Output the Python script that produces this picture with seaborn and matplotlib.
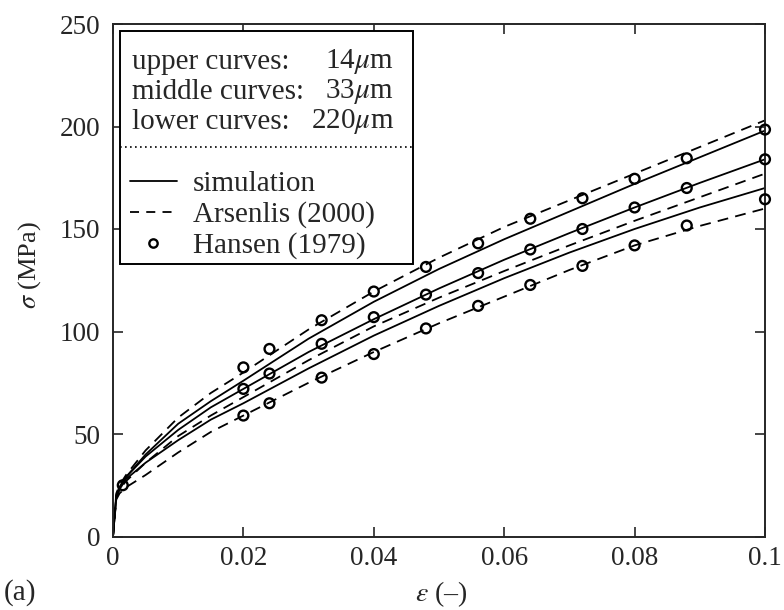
import matplotlib
matplotlib.use("Agg")
import matplotlib.pyplot as plt
import seaborn as sns
from matplotlib.lines import Line2D
from matplotlib.patches import Rectangle

# ---- data ----
strain = [0, 0.0005, 0.001, 0.002, 0.005, 0.01, 0.015, 0.02, 0.03, 0.04,
          0.05, 0.06, 0.07, 0.08, 0.09, 0.1]
sim_14 = [0, 20, 24, 29, 40, 55, 66, 76, 96.5, 114.5, 130.5, 145, 158.5, 172, 185, 198]
ars_14 = [0, 21, 25, 30, 42, 58, 70, 80, 101, 119.5, 136, 151, 164, 177, 190, 203]
sim_33 = [0, 20, 24, 29, 39, 52, 63, 72, 90, 106, 121, 135, 148, 160.5, 172.5, 184]
ars_33 = [0, 19, 23, 27, 36, 49, 59, 68, 86, 102.5, 116.5, 129.5, 142, 154, 165.5, 177]
sim_220 = [0, 19, 23, 28, 36, 47, 57, 65, 82, 98, 112.5, 126, 138.5, 150, 160.5, 170]
ars_220 = [0, 18, 21, 24, 30, 41, 51, 59, 75, 90, 104, 117, 130, 142, 151.5, 160]

hansen_x = [0.02, 0.024, 0.032, 0.04, 0.048, 0.056, 0.064, 0.072, 0.08, 0.088, 0.1]
hansen_14 = [82.5, 91.5, 105.5, 119.5, 131.5, 143, 155, 165, 174.5, 184.5, 198.5]
hansen_33 = [72, 79.5, 94, 107, 118, 128.5, 140, 150, 160.5, 170, 184]
hansen_220 = [59, 65, 77.5, 89, 101.5, 112.5, 122.7, 132, 142, 151.7, 164.5]
hansen_first_x = [0.0015]
hansen_first_y = [25]

xticks = [0, 0.02, 0.04, 0.06, 0.08, 0.1]
xtick_labels = ["0", "0.02", "0.04", "0.06", "0.08", "0.1"]
yticks = [0, 50, 100, 150, 200, 250]

sns.set_style("ticks")
plt.rcParams["font.family"] = ["Liberation Serif", "DejaVu Serif"]
plt.rcParams["mathtext.fontset"] = "stix"

W, H = 784, 610
fig = plt.figure(figsize=(W / 100, H / 100), dpi=100)
AX_L, AX_R, AX_T, AX_B = 113, 765, 24, 536.5
ax = fig.add_axes([AX_L / W, (H - AX_B) / H, (AX_R - AX_L) / W, (AX_B - AX_T) / H])


def axx(px):
    return (px - AX_L) / (AX_R - AX_L)


def axy(py):
    return (AX_B - py) / (AX_B - AX_T)


lw = 1.3
dash = (6, 4)
for ys in (sim_14, sim_33, sim_220):
    sns.lineplot(x=strain, y=ys, color="black", linewidth=lw, ax=ax,
                 estimator=None, sort=False)
for ys in (ars_14, ars_33, ars_220):
    sns.lineplot(x=strain, y=ys, color="black", linewidth=lw, ax=ax,
                 estimator=None, sort=False)
    ax.lines[-1].set_dashes(dash)

mk = dict(marker="o", s=50, facecolor="none", edgecolor="black",
          linewidth=1.7, ax=ax, clip_on=False, zorder=5)
for ys in (hansen_14, hansen_33, hansen_220):
    sns.scatterplot(x=hansen_x, y=ys, **mk)
sns.scatterplot(x=hansen_first_x, y=hansen_first_y, **mk)

ax.set_xlim(0, 0.1)
ax.set_ylim(0, 250)
ax.set_xticks(xticks)
ax.set_xticklabels(xtick_labels)
ax.set_yticks(yticks)
ax.tick_params(direction="in", length=7, width=1.2, top=True, right=True,
               labelsize=19.5)
ax.tick_params(axis="x", pad=7)
ax.tick_params(axis="y", pad=9)
for s in ax.spines.values():
    s.set_linewidth(1.4)
    s.set_visible(True)

fig.text(441 / W, 1 - 594 / H, r"$\varepsilon$ (–)", fontsize=20,
         ha="center", va="center")
fig.text(30 / W, 1 - 265 / H, r"$\sigma$ (MPa)", fontsize=19,
         ha="center", va="center", rotation=90)
fig.text(4 / W, 1 - 593 / H, "(a)", fontsize=21, va="center", ha="left")

# legend box
x0, x1 = axx(119.5), axx(412.5)
y0, y1 = axy(263.5), axy(30.5)
ax.add_patch(Rectangle((x0, y0), x1 - x0, y1 - y0, transform=ax.transAxes,
                       facecolor="white", edgecolor="black", linewidth=1.4,
                       zorder=10))
LFS = 21
for ypix, lab, val in [(62, "upper curves:", r"14$\mu$m"),
                       (92, "middle curves:", r"33$\mu$m"),
                       (122, "lower curves:", r"220$\mu$m")]:
    ax.text(axx(132), axy(ypix), lab, transform=ax.transAxes, fontsize=LFS,
            va="center", ha="left", zorder=11)
    ax.text(axx(394), axy(ypix), val, transform=ax.transAxes, fontsize=LFS,
            va="center", ha="right", zorder=11)
ax.plot([x0, x1], [axy(147)] * 2, transform=ax.transAxes,
        color="black", linestyle=(0, (1, 2)), linewidth=1.2, zorder=11)

handles = [Line2D([], [], color="black", linewidth=lw),
           Line2D([], [], color="black", linewidth=lw, dashes=(5, 4)),
           Line2D([], [], color="black", linestyle="none", marker="o",
                  markerfacecolor="none", markeredgewidth=1.7, markersize=6)]
leg = ax.legend(handles, ["simulation", "Arsenlis (2000)", "Hansen (1979)"],
                loc="upper left", bbox_to_anchor=(axx(130), axy(171)),
                frameon=False, fontsize=LFS, handlelength=1.6,
                handletextpad=0.55, labelspacing=0.14, borderaxespad=0,
                borderpad=0.0)
leg.set_zorder(12)

fig.savefig("out.png", dpi=100)
